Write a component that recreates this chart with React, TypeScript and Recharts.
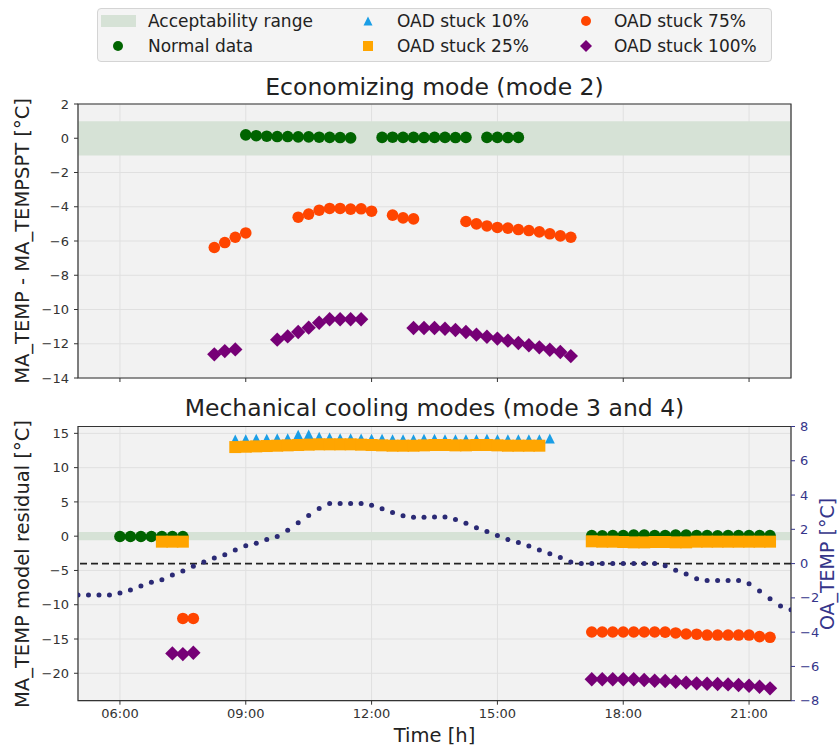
import React from 'react';
import { CartesianGrid, ComposedChart, ReferenceArea, ReferenceLine, Scatter, XAxis, YAxis } from 'recharts';

type Pt = [number, number];

const xTicks = [6, 9, 12, 15, 18, 21];
const econTicks = [2, 0, -2, -4, -6, -8, -10, -12, -14];
const mechTicks = [15, 10, 5, 0, -5, -10, -15, -20];
const oaTicks = [8, 6, 4, 2, 0, -2, -4, -6, -8];

// Economizing mode (mode 2)
const econNormal: Pt[] = [
  [9, 0.2], [9.25, 0.15], [9.5, 0.12], [9.75, 0.1], [10, 0.1], [10.25, 0.08], [10.5, 0.08], [10.75, 0.06], [11, 0.05], [11.25, 0.04], [11.5, 0.02],
  [12.25, 0.05], [12.5, 0.06], [12.75, 0.05], [13, 0.05], [13.25, 0.04], [13.5, 0.05], [13.75, 0.05], [14, 0.04], [14.25, 0.05],
  [14.75, 0.05], [15, 0.05], [15.25, 0.04], [15.5, 0.05],
];
const econStuck75: Pt[] = [
  [8.25, -6.38], [8.5, -6.09], [8.75, -5.78], [9, -5.53],
  [10.25, -4.61], [10.5, -4.43], [10.75, -4.2], [11, -4.1], [11.25, -4.1], [11.5, -4.14], [11.75, -4.12], [12, -4.26],
  [12.5, -4.49], [12.75, -4.65], [13, -4.71],
  [14.25, -4.86], [14.5, -5.0], [14.75, -5.12], [15, -5.21], [15.25, -5.25], [15.5, -5.33], [15.75, -5.39], [16, -5.47], [16.25, -5.58], [16.5, -5.7], [16.75, -5.78],
];
const econStuck100: Pt[] = [
  [8.25, -12.62], [8.5, -12.43], [8.75, -12.33],
  [9.75, -11.76], [10, -11.57], [10.25, -11.31], [10.5, -11.06], [10.75, -10.77], [11, -10.57], [11.25, -10.57], [11.5, -10.57], [11.75, -10.57],
  [13, -11.08], [13.25, -11.08], [13.5, -11.08], [13.75, -11.12], [14, -11.2], [14.25, -11.31], [14.5, -11.47], [14.75, -11.59],
  [15, -11.7], [15.25, -11.82], [15.5, -11.96], [15.75, -12.09], [16, -12.21], [16.25, -12.35], [16.5, -12.48], [16.75, -12.72],
];

// Mechanical cooling modes (mode 3 and 4)
const mechNormal: Pt[] = [
  [6, -0.05], [6.25, -0.05], [6.5, -0.05], [6.75, -0.05], [7, -0.05], [7.25, -0.05], [7.5, -0.05],
  [17.25, 0.1], [17.5, 0.05], [17.75, 0.1], [18, 0.1], [18.25, 0.15], [18.5, 0.15], [18.75, 0.1], [19, 0.1], [19.25, 0.15],
  [19.5, 0.15], [19.75, 0.1], [20, 0.1], [20.25, 0.05], [20.5, 0.1], [20.75, 0.1], [21, 0.1], [21.25, 0.1], [21.5, 0.1],
];
const mechStuck10: Pt[] = [
  [8.75, 14.1], [9, 14.15], [9.25, 14.2], [9.5, 14.2], [9.75, 14.3], [10, 14.3], [10.25, 14.8], [10.5, 14.85], [10.75, 14.5], [11, 14.4],
  [11.25, 14.3], [11.5, 14.3], [11.75, 14.25], [12, 14.2], [12.25, 14.2], [12.5, 14.15], [12.75, 14.15], [13, 14.15], [13.25, 14.2], [13.5, 14.2],
  [13.75, 14.15], [14, 14.15], [14.25, 14.15], [14.5, 14.15], [14.75, 14.2], [15, 14.15], [15.25, 14.15], [15.5, 14.15], [15.75, 14.15], [16, 14.15],
  [16.25, 14.25],
];
const mechStuck25: Pt[] = [
  [7, -0.8], [7.25, -0.8], [7.5, -0.8],
  [8.75, 13.0], [9, 13.05], [9.25, 13.1], [9.5, 13.15], [9.75, 13.2], [10, 13.25], [10.25, 13.3], [10.5, 13.35], [10.75, 13.4], [11, 13.4],
  [11.25, 13.4], [11.5, 13.4], [11.75, 13.35], [12, 13.3], [12.25, 13.25], [12.5, 13.2], [12.75, 13.2], [13, 13.2], [13.25, 13.25], [13.5, 13.3],
  [13.75, 13.3], [14, 13.25], [14.25, 13.25], [14.5, 13.3], [14.75, 13.3], [15, 13.25], [15.25, 13.2], [15.5, 13.2], [15.75, 13.2], [16, 13.2],
  [17.25, -0.75], [17.5, -0.8], [17.75, -0.8], [18, -0.85], [18.25, -0.9], [18.5, -0.9], [18.75, -0.85], [19, -0.85], [19.25, -0.9],
  [19.5, -0.9], [19.75, -0.8], [20, -0.8], [20.25, -0.8], [20.5, -0.8], [20.75, -0.8], [21, -0.8], [21.25, -0.8], [21.5, -0.8],
];
const mechStuck75: Pt[] = [
  [7.5, -12], [7.75, -12],
  [17.25, -13.98], [17.5, -13.98], [17.75, -13.98], [18, -13.98], [18.25, -13.98], [18.5, -13.98], [18.75, -13.98], [19, -14.0], [19.25, -14.12],
  [19.5, -14.27], [19.75, -14.3], [20, -14.42], [20.25, -14.42], [20.5, -14.42], [20.75, -14.42], [21, -14.42], [21.25, -14.66], [21.5, -14.75],
];
const mechStuck100: Pt[] = [
  [7.25, -17.1], [7.5, -17.2], [7.75, -17.0],
  [17.25, -20.88], [17.5, -20.88], [17.75, -20.88], [18, -20.88], [18.25, -20.88], [18.5, -20.98], [18.75, -21.08], [19, -21.13], [19.25, -21.23],
  [19.5, -21.37], [19.75, -21.47], [20, -21.52], [20.25, -21.57], [20.5, -21.62], [20.75, -21.71], [21, -21.81], [21.25, -21.96], [21.5, -22.2],
];
// outdoor air temperature, right axis
const oaTemp: Pt[] = [
  [5, -1.83], [5.25, -1.83], [5.5, -1.83], [5.75, -1.83], [6, -1.71], [6.25, -1.54], [6.5, -1.3], [6.75, -1.09],
  [7, -0.94], [7.25, -0.66], [7.5, -0.43], [7.75, -0.15], [8, 0.1], [8.25, 0.33], [8.5, 0.51], [8.75, 0.8],
  [9, 1.04], [9.25, 1.19], [9.5, 1.41], [9.75, 1.58], [10, 1.95], [10.25, 2.38], [10.5, 2.81], [10.75, 3.21],
  [11, 3.51], [11.25, 3.51], [11.5, 3.51], [11.75, 3.51], [12, 3.41], [12.25, 3.2], [12.5, 2.98], [12.75, 2.79],
  [13, 2.7], [13.25, 2.7], [13.5, 2.72], [13.75, 2.72], [14, 2.57], [14.25, 2.36], [14.5, 2.09], [14.75, 1.87],
  [15, 1.64], [15.25, 1.4], [15.5, 1.23], [15.75, 1.03], [16, 0.8], [16.25, 0.58], [16.5, 0.35], [16.75, 0.1],
  [17, 0], [17.25, 0], [17.5, 0], [17.75, 0], [18, 0], [18.25, 0], [18.5, 0], [18.75, 0],
  [19, -0.12], [19.25, -0.39], [19.5, -0.6], [19.75, -0.88], [20, -0.99], [20.25, -0.99], [20.5, -0.99], [20.75, -0.99],
  [21, -1.17], [21.25, -1.6], [21.5, -2.05], [21.75, -2.47], [22, -2.69],
];

const C_NORMAL = '#006400';
const C_10 = '#1a9ee6';
const C_25 = '#ffa500';
const C_75 = '#ff4500';
const C_100 = '#760076';
const C_OA = '#2b2a75';
const C_RIGHT = '#35358a';
const BAND = '#d6e2d6';
const FONT = 'DejaVu Sans, sans-serif';

const toPts = (a: Pt[]) => a.map(([t, v]) => ({ t, v }));

const dot = (fill: string, r: number) => (p: any) => <circle cx={p.cx} cy={p.cy} r={r} fill={fill} />;
const tri = (fill: string, s: number) => (p: any) => (
  <path d={`M${p.cx},${p.cy - s}L${p.cx + s},${p.cy + s}L${p.cx - s},${p.cy + s}Z`} fill={fill} />
);
const sq = (fill: string, s: number) => (p: any) => <rect x={p.cx - s} y={p.cy - s} width={2 * s} height={2 * s} fill={fill} />;
const dia = (fill: string, s: number) => (p: any) => (
  <path d={`M${p.cx},${p.cy - s}L${p.cx + s},${p.cy}L${p.cx},${p.cy + s}L${p.cx - s},${p.cy}Z`} fill={fill} />
);

const minus = (v: number) => (v < 0 ? '\u2212' + Math.abs(v) : String(v));
const hhmm = (h: number) => String(h).padStart(2, '0') + ':00';
const tickStyle = { fill: '#333', fontSize: 13, fontFamily: FONT };

function Txt({ x, y, size, children, rotate = 0, color = '#222', left = false }: any) {
  return (
    <div
      style={{
        position: 'absolute', left: x, top: y, fontSize: size, lineHeight: 1, whiteSpace: 'nowrap', color, fontFamily: FONT,
        transform: `translate(${left ? '0' : '-50%'},-50%) rotate(${rotate}deg)`,
      }}
    >
      {children}
    </div>
  );
}

function Marker({ x, y, children }: any) {
  return (
    <svg style={{ position: 'absolute', left: x - 10, top: y - 10 }} width={20} height={20}>
      {children}
    </svg>
  );
}

function Legend() {
  const r1 = 21, r2 = 46;
  return (
    <>
      <div style={{ position: 'absolute', left: 97, top: 8, width: 675, height: 54, boxSizing: 'border-box', border: '1px solid #d4d4d4', borderRadius: 4, background: '#f4f4f4' }} />
      <div style={{ position: 'absolute', left: 101, top: r1 - 6, width: 35, height: 12, background: BAND }} />
      <Txt x={148} y={r1} size={17} left>Acceptability range</Txt>
      <Marker x={118} y={r2}><circle cx={10} cy={10} r={5} fill={C_NORMAL} /></Marker>
      <Txt x={148} y={r2} size={17} left>Normal data</Txt>
      <Marker x={368} y={r1}>{tri(C_10, 4.5)({ cx: 10, cy: 10 })}</Marker>
      <Txt x={397} y={r1} size={17} left>OAD stuck 10%</Txt>
      <Marker x={368} y={r2}>{sq(C_25, 5)({ cx: 10, cy: 10 })}</Marker>
      <Txt x={397} y={r2} size={17} left>OAD stuck 25%</Txt>
      <Marker x={586} y={r1}><circle cx={10} cy={10} r={5} fill={C_75} /></Marker>
      <Txt x={614} y={r1} size={17} left>OAD stuck 75%</Txt>
      <Marker x={586} y={r2}>{dia(C_100, 6)({ cx: 10, cy: 10 })}</Marker>
      <Txt x={614} y={r2} size={17} left>OAD stuck 100%</Txt>
    </>
  );
}

export default function App() {
  return (
    <div style={{ position: 'absolute', left: 0, top: 0, width: 840, height: 748, background: '#fff', fontFamily: FONT }}>
      <div style={{ position: 'absolute', left: 0, top: 0 }}>
        <ComposedChart width={840} height={390} margin={{ top: 104, right: 49, bottom: 0, left: 0 }}>
          <CartesianGrid fill="#f2f2f2" stroke="#e0e0e0" />
          <XAxis dataKey="t" type="number" domain={[5, 22]} allowDataOverflow ticks={xTicks} tickFormatter={() => ''} height={12}
            axisLine={false} tickSize={4} tickLine={{ stroke: '#333' }} />
          <YAxis dataKey="v" type="number" domain={[-14, 2]} allowDataOverflow ticks={econTicks} tickFormatter={minus} width={78}
            axisLine={false} tickSize={4} tickMargin={5} tickLine={{ stroke: '#333' }} tick={tickStyle} />
          <ReferenceArea x1={5} x2={22} y1={-1} y2={1} fill={BAND} fillOpacity={1} stroke="none" />
          <Scatter data={toPts(econNormal)} shape={dot(C_NORMAL, 5.8)} isAnimationActive={false} />
          <Scatter data={toPts(econStuck75)} shape={dot(C_75, 5.8)} isAnimationActive={false} />
          <Scatter data={toPts(econStuck100)} shape={dia(C_100, 7.2)} isAnimationActive={false} />
          <ReferenceArea x1={5} x2={22} y1={-14} y2={2} fill="none" stroke="#333" strokeWidth={1.2} />
        </ComposedChart>
      </div>
      <div style={{ position: 'absolute', left: 0, top: 395 }}>
        <ComposedChart width={840} height={353} margin={{ top: 31.5, right: 0, bottom: 17.3, left: 0 }}>
          <CartesianGrid fill="#f2f2f2" stroke="#e0e0e0" />
          <XAxis dataKey="t" type="number" domain={[5, 22]} allowDataOverflow ticks={xTicks} tickFormatter={hhmm} height={30}
            axisLine={false} tickSize={4} tickMargin={4} tickLine={{ stroke: '#333' }} tick={tickStyle} />
          <YAxis dataKey="v" type="number" domain={[-24, 16]} allowDataOverflow ticks={mechTicks} tickFormatter={minus} width={78}
            axisLine={false} tickSize={4} tickMargin={5} tickLine={{ stroke: '#333' }} tick={tickStyle} />
          <YAxis yAxisId="right" orientation="right" dataKey="v" type="number" domain={[-8, 8]} allowDataOverflow ticks={oaTicks}
            tickFormatter={minus} width={49} axisLine={false} tickSize={4} tickMargin={5} tickLine={{ stroke: C_RIGHT }}
            tick={{ ...tickStyle, fill: C_RIGHT }} />
          <ReferenceArea x1={5} x2={22} y1={-0.6} y2={0.6} fill={BAND} fillOpacity={1} stroke="none" />
          <Scatter data={toPts(mechNormal)} shape={dot(C_NORMAL, 5.8)} isAnimationActive={false} />
          <Scatter data={toPts(mechStuck10)} shape={tri(C_10, 5)} isAnimationActive={false} />
          <Scatter data={toPts(mechStuck25)} shape={sq(C_25, 6)} isAnimationActive={false} />
          <Scatter data={toPts(mechStuck75)} shape={dot(C_75, 5.8)} isAnimationActive={false} />
          <Scatter data={toPts(mechStuck100)} shape={dia(C_100, 7.2)} isAnimationActive={false} />
          <ReferenceLine yAxisId="right" y={0} stroke="#222" strokeWidth={1.7} strokeDasharray="7 4" />
          <Scatter yAxisId="right" data={toPts(oaTemp)} shape={dot(C_OA, 2.5)} isAnimationActive={false} />
          <ReferenceArea x1={5} x2={22} y1={-24} y2={16} fill="none" stroke="#333" strokeWidth={1.2} />
        </ComposedChart>
      </div>
      <Legend />
      <Txt x={434.5} y={88} size={23.5}>Economizing mode (mode 2)</Txt>
      <Txt x={434.5} y={409} size={23.5}>Mechanical cooling modes (mode 3 and 4)</Txt>
      <Txt x={23} y={241} size={19.5} rotate={-90}>MA_TEMP - MA_TEMPSPT [°C]</Txt>
      <Txt x={23} y={563.6} size={19.5} rotate={-90}>MA_TEMP model residual [°C]</Txt>
      <Txt x={827} y={563.6} size={19} rotate={-90} color={C_RIGHT}>OA_TEMP [°C]</Txt>
      <Txt x={434.5} y={736} size={19.5}>Time [h]</Txt>
    </div>
  );
}
